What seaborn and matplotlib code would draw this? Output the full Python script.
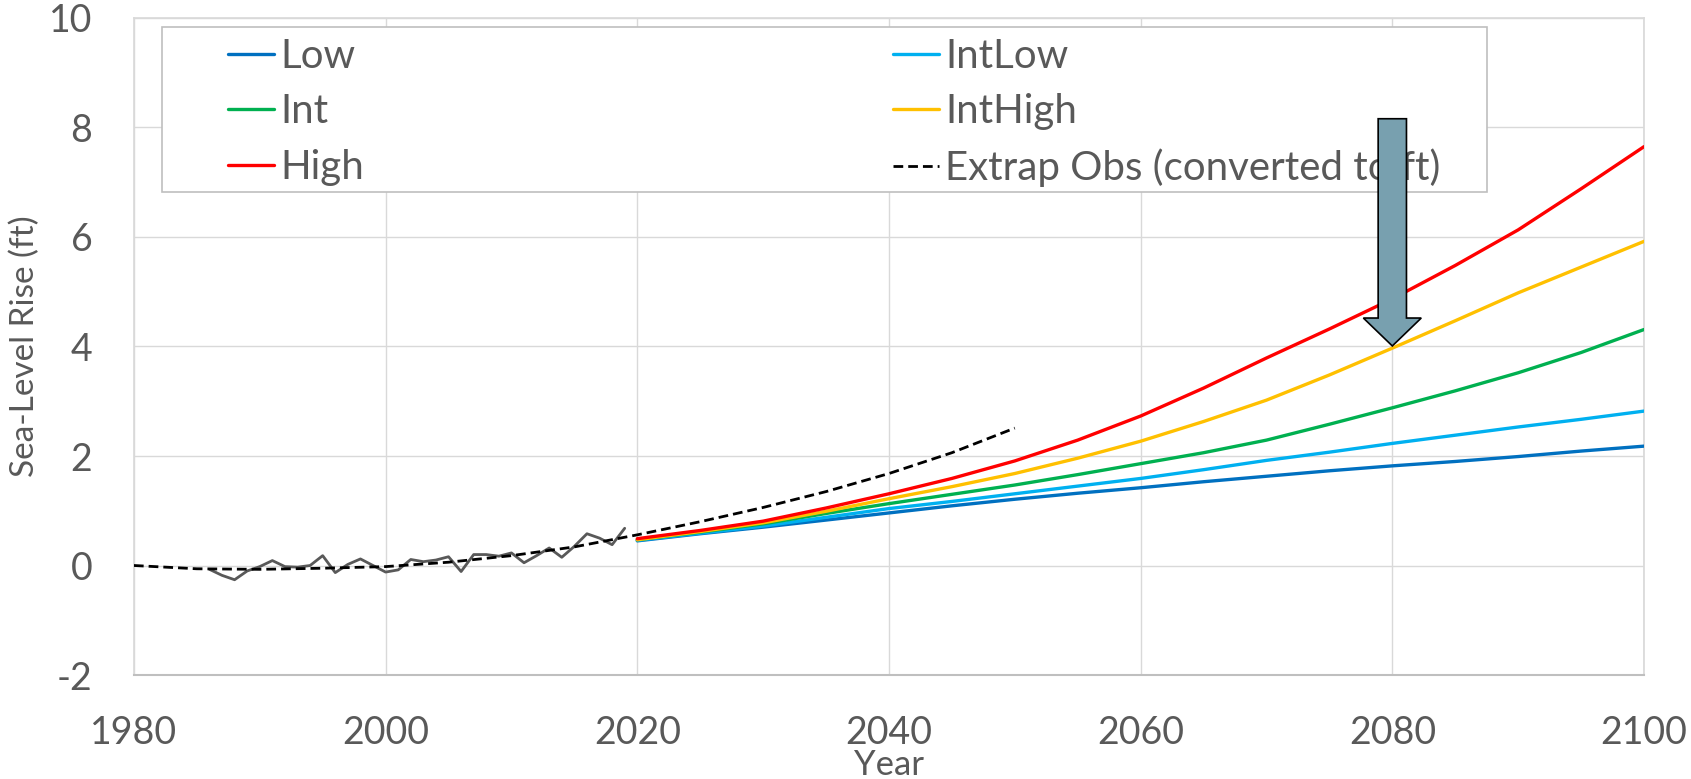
import numpy as np
import pandas as pd
import matplotlib
matplotlib.use("Agg")
import matplotlib.pyplot as plt
from matplotlib.patches import FancyArrow, Rectangle
import seaborn as sns

# Scenario projections (ft), every 5 years
proj_years = list(range(2020, 2101, 5))
low      = [0.45, 0.58, 0.70, 0.83, 0.96, 1.09, 1.21, 1.32, 1.42,
            1.53, 1.63, 1.73, 1.82, 1.90, 1.99, 2.09, 2.18]
int_low  = [0.46, 0.59, 0.72, 0.88, 1.04, 1.17, 1.31, 1.45, 1.59,
            1.75, 1.92, 2.07, 2.23, 2.38, 2.53, 2.67, 2.82]
int_mid  = [0.47, 0.61, 0.76, 0.95, 1.13, 1.30, 1.47, 1.66, 1.86,
            2.06, 2.29, 2.58, 2.88, 3.19, 3.52, 3.89, 4.31]
int_high = [0.47, 0.62, 0.78, 0.99, 1.22, 1.44, 1.68, 1.96, 2.27,
            2.63, 3.02, 3.48, 3.97, 4.47, 4.98, 5.45, 5.92]
high     = [0.49, 0.64, 0.81, 1.05, 1.31, 1.59, 1.91, 2.29, 2.73,
            3.24, 3.79, 4.32, 4.87, 5.48, 6.13, 6.88, 7.65]

# Extrapolated observations (dashed)
extrap_years = [1980, 1985, 1990, 1995, 2000, 2005, 2010, 2015, 2020,
                2025, 2030, 2035, 2040, 2045, 2050]
extrap_vals = [0.0, -0.06, -0.07, -0.05, -0.02, 0.06, 0.18, 0.34, 0.56,
               0.80, 1.06, 1.35, 1.68, 2.06, 2.51]

# Observed annual sea level (gray)
obs_years = list(range(1986, 2020))
obs_vals = [-0.07, -0.18, -0.26, -0.10, -0.02, 0.09, -0.02, -0.03, 0.00, 0.18,
            -0.13, 0.02, 0.12, 0.00, -0.12, -0.08, 0.11, 0.07, 0.10, 0.16,
            -0.11, 0.20, 0.20, 0.17, 0.23, 0.05, 0.18, 0.32, 0.15, 0.35,
            0.58, 0.50, 0.38, 0.68]

scenario_names = ["Low", "IntLow", "Int", "IntHigh", "High"]
scenario_colors = ["#0070C0", "#00B0F0", "#00B050", "#FFC000", "#FF0000"]

proj = pd.DataFrame({
    "Year": proj_years * 5,
    "SLR": low + int_low + int_mid + int_high + high,
    "Scenario": np.repeat(scenario_names, len(proj_years)),
})

sns.set_theme(style="whitegrid")
plt.rcParams["font.family"] = ["Lato", "DejaVu Sans"]
plt.rcParams["axes.unicode_minus"] = False
text_gray = "#595959"

fig = plt.figure(figsize=(16.91, 7.79), dpi=100)
ax = fig.add_axes([0.0792, 0.1335, 0.893, 0.8434])

sns.lineplot(data=proj, x="Year", y="SLR", hue="Scenario",
             hue_order=scenario_names, palette=scenario_colors,
             linewidth=2.4, legend=False, ax=ax, zorder=3)
sns.lineplot(x=obs_years, y=obs_vals, color="#595959", linewidth=2.0,
             ax=ax, zorder=2)
sns.lineplot(x=extrap_years, y=extrap_vals, color="black", linewidth=2.0,
             ax=ax, zorder=4)
ax.lines[-1].set_dashes([3.5, 1.8])

ax.set_xlim(1980, 2100)
ax.set_ylim(-2, 10)
ax.set_xticks(range(1980, 2101, 20))
ax.set_yticks(range(-2, 11, 2))
ax.tick_params(axis="both", length=0, labelsize=27, labelcolor=text_gray)
ax.tick_params(axis="y", pad=30)
ax.tick_params(axis="x", pad=29)
ax.grid(True, color="#d9d9d9", linewidth=1)
for side in ["left", "top", "right"]:
    ax.spines[side].set_color("#d9d9d9")
ax.spines["bottom"].set_color("#bfbfbf")
ax.spines["bottom"].set_linewidth(1.5)

ax.set_xlabel("Year", fontsize=25, color=text_gray)
ax.set_ylabel("Sea-Level Rise (ft)", fontsize=24, color=text_gray)
ax.xaxis.set_label_coords(0.5, -0.113)
ax.yaxis.set_label_coords(-0.062, 0.5)

# Legend box drawn separately so the inner padding matches
ax.add_patch(Rectangle((0.0185, 0.735), 0.8775, 0.251, transform=ax.transAxes,
                       facecolor="white", edgecolor="#bfbfbf", linewidth=1.2,
                       zorder=4.5))
by_name = dict(zip(scenario_names, ax.lines[:5]))
handles = [by_name["Low"], by_name["Int"], by_name["High"],
           by_name["IntLow"], by_name["IntHigh"], ax.lines[-1]]
labels = ["Low", "Int", "High", "IntLow", "IntHigh",
          "Extrap Obs (converted to ft)"]
leg = ax.legend(handles, labels, ncol=2, loc="upper left",
                bbox_to_anchor=(0.0623, 0.735, 0.8027, 0.234), mode="expand",
                fontsize=29, frameon=False, handlelength=1.15,
                handletextpad=0.15, labelspacing=0.45, borderpad=0,
                borderaxespad=0)
for t in leg.get_texts():
    t.set_color(text_gray)

# Arrow pointing at IntHigh in 2080
arrow = FancyArrow(2080, 8.16, 0, -4.15, width=2.25, head_width=4.6,
                   head_length=0.51, length_includes_head=True,
                   facecolor="#78A0AF", edgecolor="black", linewidth=1.2,
                   zorder=6)
ax.add_patch(arrow)

fig.savefig("out.png", dpi=100)
